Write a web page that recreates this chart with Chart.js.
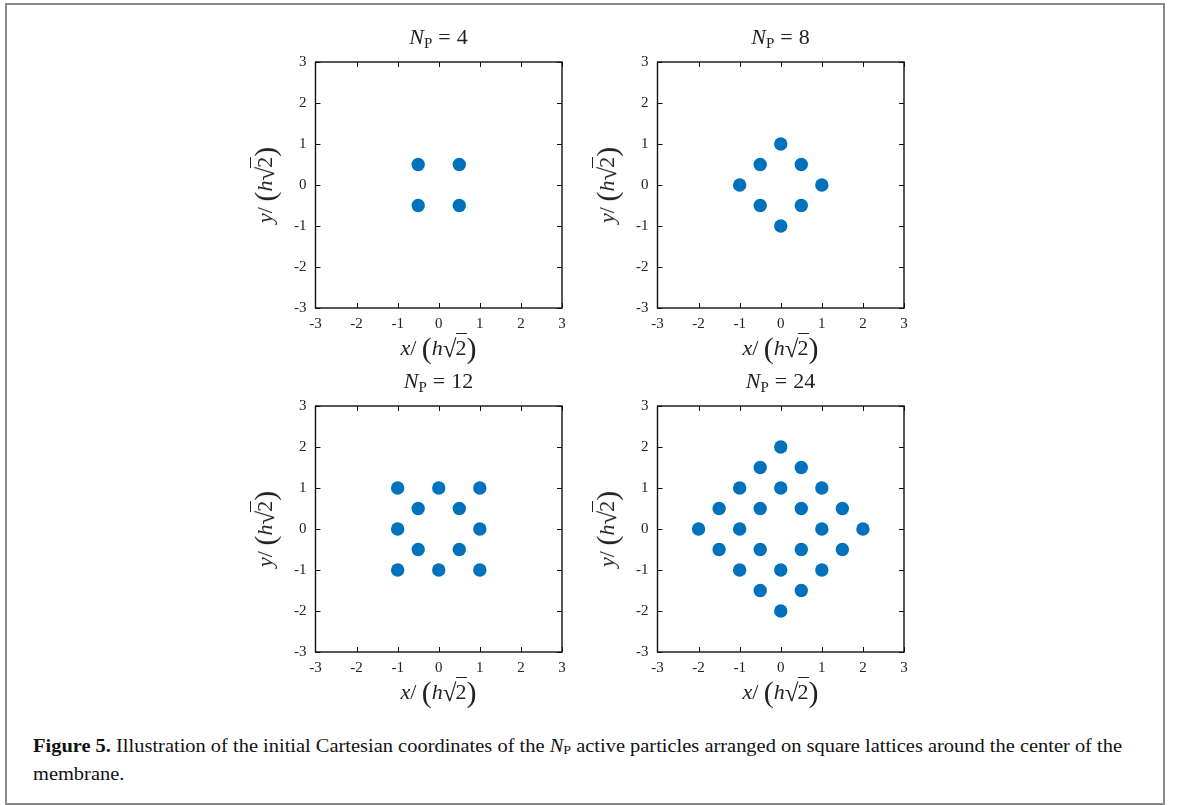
<!DOCTYPE html>
<html>
<head>
<meta charset="utf-8">
<script src="https://cdn.jsdelivr.net/npm/chart.js@4/dist/chart.umd.min.js"></script>
<style>
  html, body { margin: 0; padding: 0; background: #fff; }
  body { width: 1179px; height: 805px; position: relative; overflow: hidden; font-family: 'Liberation Serif', 'DejaVu Serif', serif; color: #222; }
  .frame { position: absolute; left: 5px; top: 3px; width: 1156px; height: 798px; border: 2px solid #8a8a8a; }
  .panel canvas { position: absolute; }
  .ttl, .xl, .yl { position: absolute; font-size: 22px; white-space: nowrap; transform: translate(-50%, -50%); line-height: 1; }
  .yl { transform: translate(-50%, -50%) rotate(-90deg); }
  .ttl sub { font-size: 15px; font-style: normal; vertical-align: -4px; }
  .eq { padding: 0 6px; }
  .big { font-size: 30px; vertical-align: -3px; font-weight: 300; }
  .sq { font-size: 25px; vertical-align: -2px; }
  .rad { border-top: 1.3px solid #222; padding-top: 1px; margin-left: -1px; }
  .cap { position: absolute; left: 33px; top: 734px; font-size: 19px; line-height: 24px; white-space: nowrap; color: #111; transform-origin: 0 0; }
  .cap sub { font-size: 13px; vertical-align: -2px; }
</style>
</head>
<body>
<div class="frame"></div>
<div id="panels"></div>
<div class="cap" id="cap"><span id="capLine"><b>Figure 5.</b> Illustration of the initial Cartesian coordinates of the <i>N</i><sub>P</sub> active particles arranged on square lattices around the center of the</span><br>membrane.</div>

<script>
/* ── Data ─────────────────────────────── */
const tickLabels = ['-3', '-2', '-1', '0', '1', '2', '3'];

const n4x = [-0.5, 0.5, -0.5, 0.5];
const n4y = [0.5, 0.5, -0.5, -0.5];

const n8x = [0, -0.5, 0.5, -1, 1, -0.5, 0.5, 0];
const n8y = [1, 0.5, 0.5, 0, 0, -0.5, -0.5, -1];

const n12x = [-1, 0, 1, -0.5, 0.5, -1, 1, -0.5, 0.5, -1, 0, 1];
const n12y = [1, 1, 1, 0.5, 0.5, 0, 0, -0.5, -0.5, -1, -1, -1];

const n24x = [0, -0.5, 0.5, -1, 0, 1, -1.5, -0.5, 0.5, 1.5, -2, -1, 1, 2, -1.5, -0.5, 0.5, 1.5, -1, 0, 1, -0.5, 0.5, 0];
const n24y = [2, 1.5, 1.5, 1, 1, 1, 0.5, 0.5, 0.5, 0.5, 0, 0, 0, 0, -0.5, -0.5, -0.5, -0.5, -1, -1, -1, -1.5, -1.5, -2];

/* ── Layout ───────────────────────────── */
const PW = 247, PH = 246;      // plot box size in the reference
const panels = [
  { n: 4,  xs: n4x,  ys: n4y,  left: 315, top: 62 },
  { n: 8,  xs: n8x,  ys: n8y,  left: 657, top: 62 },
  { n: 12, xs: n12x, ys: n12y, left: 315, top: 406 },
  { n: 24, xs: n24x, ys: n24y, left: 657, top: 406 },
];

/* box + inward ticks on all sides, gnuplot style */
const boxTicks = {
  id: 'boxTicks',
  afterDraw(chart) {
    const { ctx, chartArea: a, scales: { x, y } } = chart;
    const L = 5;
    ctx.save();
    ctx.strokeStyle = '#111';
    ctx.lineWidth = 1;
    x.ticks.forEach(t => {
      const px = Math.round(x.getPixelForValue(t.value)) + 0.5;
      ctx.beginPath();
      ctx.moveTo(px, a.bottom); ctx.lineTo(px, a.bottom - L);
      ctx.moveTo(px, a.top);    ctx.lineTo(px, a.top + L);
      ctx.stroke();
    });
    y.ticks.forEach(t => {
      const py = Math.round(y.getPixelForValue(t.value)) + 0.5;
      ctx.beginPath();
      ctx.moveTo(a.left, py);  ctx.lineTo(a.left + L, py);
      ctx.moveTo(a.right, py); ctx.lineTo(a.right - L, py);
      ctx.stroke();
    });
    ctx.lineWidth = 1.4;
    ctx.strokeRect(a.left, a.top, a.right - a.left, a.bottom - a.top);
    ctx.restore();
  }
};

const tickFont = { family: "'Liberation Serif', serif", size: 15 };
const label = (v) => tickLabels[tickLabels.indexOf(String(v))] ?? '';

function makeChart(cv, p) {
  return new Chart(cv, {
    type: 'scatter',
    data: {
      datasets: [{
        data: p.xs.map((x, i) => ({ x, y: p.ys[i] })),
        backgroundColor: '#0072BD',
        borderWidth: 0,
        pointRadius: 6.7,
      }]
    },
    options: {
      responsive: false,
      animation: false,
      devicePixelRatio: 1,
      layout: { padding: { top: 10, right: 12, left: 4, bottom: 4 } },
      plugins: { legend: { display: false }, tooltip: { enabled: false } },
      scales: {
        x: {
          type: 'linear', min: -3, max: 3,
          grid: { display: false, drawTicks: false }, border: { display: false },
          ticks: { stepSize: 1, padding: 7, color: '#222', font: tickFont, maxRotation: 0, callback: label }
        },
        y: {
          type: 'linear', min: -3, max: 3,
          grid: { display: false, drawTicks: false }, border: { display: false },
          ticks: { stepSize: 1, padding: 9, color: '#222', font: tickFont, callback: label }
        }
      }
    },
    plugins: [boxTicks]
  });
}

const host = document.getElementById('panels');
const sqrtLabel = v => `<i>${v}</i>/ <span class="big">(</span><i>h</i><span class="sq">√</span><span class="rad">2</span><span class="big">)</span>`;

panels.forEach(p => {
  const wrap = document.createElement('div');
  wrap.className = 'panel';
  let cv = document.createElement('canvas');
  cv.width = PW + 60; cv.height = PH + 50;
  wrap.appendChild(cv);
  host.appendChild(wrap);

  // first pass: measure how much room the axes take, then size the canvas so the box is PW x PH
  let chart = makeChart(cv, p);
  let a = chart.chartArea;
  const w = cv.width + PW - (a.right - a.left);
  const h = cv.height + PH - (a.bottom - a.top);
  chart.destroy();
  cv.remove();
  cv = document.createElement('canvas');
  cv.width = w; cv.height = h;
  wrap.appendChild(cv);
  chart = makeChart(cv, p);
  a = chart.chartArea;
  cv.style.left = (p.left - a.left) + 'px';
  cv.style.top = (p.top - a.top) + 'px';

  const cx = p.left + PW / 2, cy = p.top + PH / 2;
  wrap.insertAdjacentHTML('beforeend',
    `<div class="ttl" style="left:${cx}px;top:${p.top - 24}px"><i>N</i><sub>P</sub><span class="eq">=</span>${p.n}</div>` +
    `<div class="xl" style="left:${cx}px;top:${p.top + PH + 40}px">${sqrtLabel('x')}</div>` +
    `<div class="yl" style="left:${p.left - 50}px;top:${cy}px">${sqrtLabel('y')}</div>`);
});

/* stretch caption line to the reference width */
const capLine = document.getElementById('capLine');
const cap = document.getElementById('cap');
const s = 1089 / capLine.getBoundingClientRect().width;
cap.style.transform = `scaleX(${s})`;
</script>
</body>
</html>
